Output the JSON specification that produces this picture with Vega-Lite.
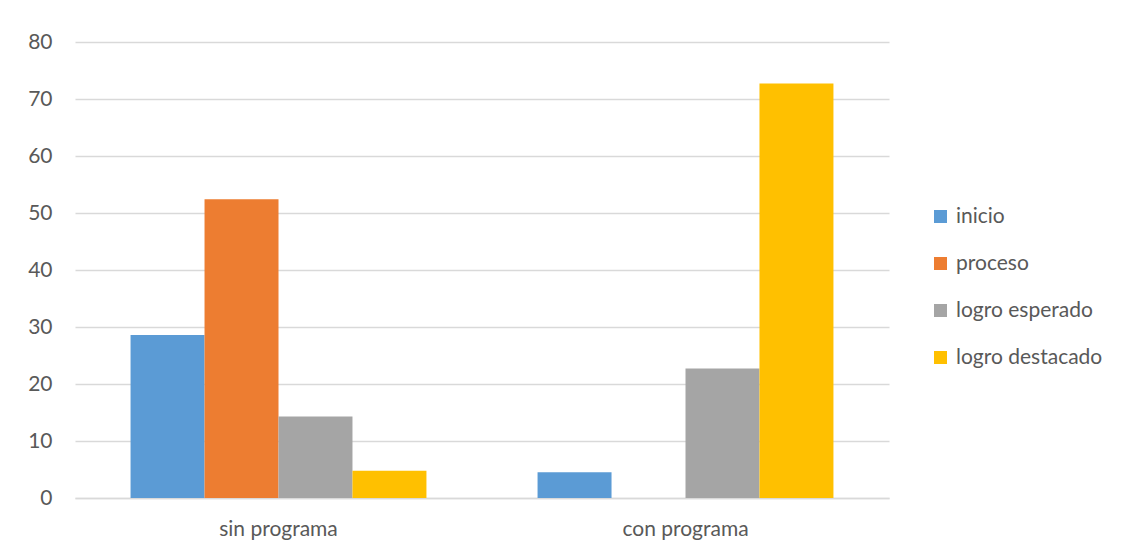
{
  "$schema": "https://vega.github.io/schema/vega-lite/v6.json",
  "width": 814,
  "height": 456,
  "autosize": "none",
  "padding": {"left": 75, "top": 42, "right": 236, "bottom": 56},
  "background": "white",
  "data": {
    "values": [
      {"grupo": "sin programa", "nivel": "inicio", "valor": 28.6},
      {"grupo": "sin programa", "nivel": "proceso", "valor": 52.4},
      {"grupo": "sin programa", "nivel": "logro esperado", "valor": 14.3},
      {"grupo": "sin programa", "nivel": "logro destacado", "valor": 4.8},
      {"grupo": "con programa", "nivel": "inicio", "valor": 4.5},
      {"grupo": "con programa", "nivel": "proceso", "valor": 0},
      {"grupo": "con programa", "nivel": "logro esperado", "valor": 22.7},
      {"grupo": "con programa", "nivel": "logro destacado", "valor": 72.7}
    ]
  },
  "mark": {"type": "bar"},
  "encoding": {
    "x": {
      "field": "grupo",
      "type": "nominal",
      "sort": ["sin programa", "con programa"],
      "scale": {"paddingInner": 0.273, "paddingOuter": 0.1365},
      "axis": {
        "title": null,
        "labelAngle": 0,
        "labelFont": "Lato",
        "labelFontSize": 21,
        "labelColor": "#595959",
        "labelPadding": 20,
        "ticks": false,
        "domainColor": "#d9d9d9",
        "domainWidth": 1.5
      }
    },
    "xOffset": {
      "field": "nivel",
      "type": "nominal",
      "sort": ["inicio", "proceso", "logro esperado", "logro destacado"],
      "scale": {"paddingInner": 0, "paddingOuter": 0}
    },
    "y": {
      "field": "valor",
      "type": "quantitative",
      "scale": {"domain": [0, 80], "nice": false},
      "axis": {
        "title": null,
        "values": [0, 10, 20, 30, 40, 50, 60, 70, 80],
        "labelFont": "Lato",
        "labelFontSize": 21,
        "labelColor": "#595959",
        "labelPadding": 23,
        "ticks": false,
        "domain": false,
        "gridColor": "#d9d9d9",
        "gridWidth": 1.5
      }
    },
    "color": {
      "field": "nivel",
      "type": "nominal",
      "sort": ["inicio", "proceso", "logro esperado", "logro destacado"],
      "scale": {
        "domain": ["inicio", "proceso", "logro esperado", "logro destacado"],
        "range": ["#5b9bd5", "#ed7d31", "#a5a5a5", "#ffc000"]
      },
      "legend": {
        "title": null,
        "orient": "none",
        "legendX": 855,
        "legendY": 164,
        "symbolType": "square",
        "symbolSize": 169,
        "symbolStrokeWidth": 0,
        "labelFont": "Lato",
        "labelFontSize": 21,
        "labelColor": "#595959",
        "labelOffset": 5,
        "rowPadding": 25,
        "symbolOffset": 0
      }
    }
  },
  "config": {"view": {"stroke": null}}
}
